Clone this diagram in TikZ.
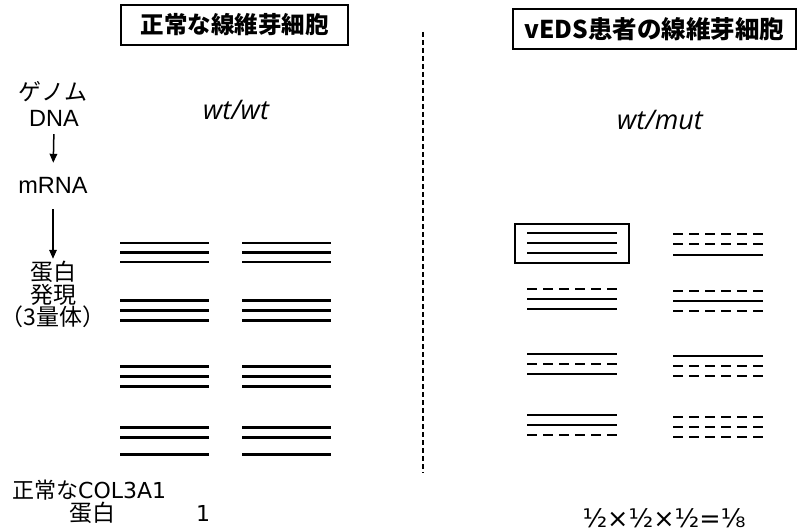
\documentclass[tikz,border=0pt]{standalone}
\usepackage{fontspec}
\setmainfont{Noto Sans CJK JP}
\newfontfamily\itf{Open Sans}
\newfontfamily\dvf{DejaVu Sans}
\newfontfamily\lsf{Liberation Sans}
\usetikzlibrary{arrows.meta}
\begin{document}
\begin{tikzpicture}[x=1pt,y=-1pt,
  sl/.style={line width=2.6pt},
  dl/.style={line width=2.6pt, dash pattern=on 10pt off 6pt},
  titlebox/.style={draw, line width=1.3pt, inner sep=0pt, font=\fontsize{23.5}{26}\selectfont\bfseries},
  lab/.style={anchor=base, inner sep=0pt, text height=17pt, text depth=0pt, font=\fontsize{23}{26}\selectfont},
  geno/.style={anchor=base, inner sep=0pt, font=\fontsize{27}{30}\selectfont\itf\itshape},
  arr/.style={line width=1.5pt, -{Triangle[length=9pt,width=7.5pt]}},
  divider/.style={line width=1.2pt, dash pattern=on 5pt off 3pt}]
\useasboundingbox (0,0) rectangle (797,532);

% titles
\node[titlebox, minimum width=227pt, minimum height=40pt] (tl) at (234.5,25) {正常な線維芽細胞};
\node[titlebox, minimum width=283pt, minimum height=40pt, font=\fontsize{24.5}{27}\selectfont\bfseries] (tr) at (654.5,29) {vEDS患者の線維芽細胞};

% divider
\coordinate (dtop) at (423,32);
\coordinate (dbot) at (423,473);
\draw[divider] (dtop) -- (dbot);

% genotypes
\node[geno] (gl) at (236,120) {wt/wt};
\node[geno] (gr) at (660,129) {wt/mut};

% left labels
\node[lab] (genome) at (53,101) {ゲノム};
\node[lab, font=\fontsize{23.5}{26}\selectfont\lsf] (dna) at (54,127) {DNA};
\node[lab, font=\fontsize{23.5}{26}\selectfont\lsf] (mrna) at (53,193) {mRNA};
\node[lab] (prot) at (53,280) {蛋白};
\node[lab] (expr) at (53,303) {発現};
\node[lab] (trimer) at (53,325) {（3量体）};
\draw[arr, shorten <=7pt, shorten >=13pt] (dna.south) -- (mrna.north);
\draw[arr, shorten <=16pt, shorten >=4pt] (mrna.south) -- (prot.north);

% bottom labels
\node[anchor=base west, inner sep=0pt, font=\fontsize{22}{26}\selectfont] (normal) at (12,498) {正常な{\dvf COL3A1}};
\node[anchor=base, inner sep=0pt, font=\fontsize{23}{26}\selectfont] (prot2) at (92,521) {蛋白};
\node[anchor=base, inner sep=0pt, font=\fontsize{22}{26}\selectfont\dvf] (one) at (203,521) {1};
\node[anchor=base, inner sep=0pt, font=\fontsize{25.5}{28}\selectfont\dvf] (frac) at (664,527) {½×½×½=⅛};

% left (normal) trimers
\foreach \xa/\xb in {120/209, 242/331} {
  \draw[sl] (\xa,243) -- (\xb,243);
  \draw[sl] (\xa,252.5) -- (\xb,252.5);
  \draw[sl] (\xa,262) -- (\xb,262);
  \draw[sl] (\xa,300.5) -- (\xb,300.5);
  \draw[sl] (\xa,310.5) -- (\xb,310.5);
  \draw[sl] (\xa,320.5) -- (\xb,320.5);
  \draw[sl] (\xa,366.5) -- (\xb,366.5);
  \draw[sl] (\xa,376.5) -- (\xb,376.5);
  \draw[sl] (\xa,386.5) -- (\xb,386.5);
  \draw[sl] (\xa,427.5) -- (\xb,427.5);
  \draw[sl] (\xa,437.5) -- (\xb,437.5);
  \draw[sl] (\xa,454.5) -- (\xb,454.5);
}

% right (vEDS) trimers, column 1
\draw[line width=1.4pt] (515,224) rectangle (629,263);
\draw[sl] (527,233) -- (617,233);
\draw[sl] (527,243) -- (617,243);
\draw[sl] (527,253) -- (617,253);

\draw[dl] (527,289) -- (617,289);
\draw[sl] (527,299) -- (617,299);
\draw[sl] (527,309) -- (617,309);

\draw[sl] (527,354) -- (617,354);
\draw[dl] (527,364) -- (617,364);
\draw[sl] (527,374) -- (617,374);

\draw[sl] (527,415) -- (617,415);
\draw[sl] (527,425) -- (617,425);
\draw[dl] (527,435) -- (617,435);

% column 2
\draw[dl] (673,234) -- (763,234);
\draw[dl] (673,244) -- (763,244);
\draw[sl] (673,255) -- (763,255);

\draw[dl] (673,291) -- (763,291);
\draw[sl] (673,301) -- (763,301);
\draw[dl] (673,311) -- (763,311);

\draw[sl] (673,356) -- (763,356);
\draw[dl] (673,366) -- (763,366);
\draw[dl] (673,376) -- (763,376);

\draw[dl] (673,417) -- (763,417);
\draw[dl] (673,427) -- (763,427);
\draw[dl] (673,437) -- (763,437);
\end{tikzpicture}
\end{document}
